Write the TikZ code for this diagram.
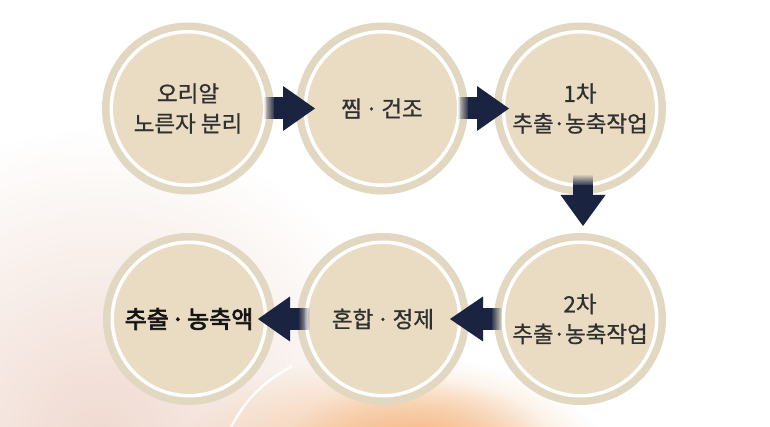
\documentclass[tikz,border=0pt]{standalone}
\usepackage{fontspec}
\setmainfont{Noto Sans CJK KR}[FakeBold=0.8]
\newfontfamily\regfont{Noto Sans CJK KR}[FakeBold=0.8]
\newfontfamily\boldfont{Noto Sans CJK KR}[FakeBold=3]
\usetikzlibrary{calc,fadings}
\definecolor{ringbeige}{HTML}{E2D7C1}
\definecolor{innerbeige}{HTML}{E9DCC3}
\definecolor{navy}{HTML}{1A2440}
\definecolor{txt}{HTML}{303030}
\definecolor{peachglow}{HTML}{F0DAD0}
\definecolor{orangeglow}{HTML}{F6BD8A}
\tikzfading[name=fadein, left color=transparent!100, right color=transparent!0]
\tikzfading[name=fuzzycirc, inner color=transparent!0, outer color=transparent!100]
\newcommand{\mdot}[1]{\kern#1em·\kern#1em}
\begin{document}
\begin{tikzpicture}[x=1pt,y=-1pt,
  stepcirc/.style={circle, minimum size=153.5pt, inner sep=0pt, fill=innerbeige,
    draw=white, line width=3.5pt, preaction={draw=ringbeige, line width=18.5pt},
    align=center, text=txt, font=\regfont\fontsize{22.5}{30}\selectfont},
  headfill/.style={fill=navy},
  shaftfill/.style={fill=navy, path fading=fadein}]
\useasboundingbox (0,0) rectangle (770,427);
\fill[white] (0,0) rectangle (770,427);
\begin{scope}
  \clip (0,0) rectangle (770,427);
  \fill[peachglow, path fading=fuzzycirc] (100,440) circle (310);
  \fill[orangeglow, path fading=fuzzycirc] (390,465) ellipse (220 and 110);
  \fill[orangeglow, path fading=fuzzycirc] (420,440) ellipse (130 and 60);
  \draw[white, line width=2.5pt, opacity=.9] (231,427) .. controls (245,402) and (258,385) .. (292,366);
\end{scope}

\node[stepcirc] (n1) at (188,108.5) {오리알\\노른자 분리};
\node[stepcirc] (n2) at (382,108.5) {찜\mdot{0.15}건조};
\node[stepcirc] (n3) at (580,108.5) {1차\\추출\mdot{-0.03}농축작업};
\node[stepcirc] (n6) at (580,319) {2차\\추출\mdot{-0.03}농축작업};
\node[stepcirc] (n5) at (383,319) {혼합\mdot{0.15}정제};
\node[stepcirc, font=\boldfont\fontsize{24}{32}\selectfont, text=black!92] (n4) at (189,319) {추출\mdot{0.1}농축액};

% n1 -> n2
\coordinate (t1) at ($(n2.center)+(-67,0)$);
\fill[shaftfill] ($(t1)+(-52,-11)$) rectangle ($(t1)+(-40,11)$);
\fill[headfill] ($(t1)+(-41,-11)$) rectangle ($(t1)+(-30,11)$);
\fill[headfill] (t1) -- ++(-32,-22.5) -- ++(0,45) -- cycle;
% n2 -> n3
\coordinate (t2) at ($(n3.center)+(-71,0)$);
\fill[shaftfill] ($(t2)+(-52,-11)$) rectangle ($(t2)+(-40,11)$);
\fill[headfill] ($(t2)+(-41,-11)$) rectangle ($(t2)+(-30,11)$);
\fill[headfill] (t2) -- ++(-32,-22.5) -- ++(0,45) -- cycle;
% n3 -> n6
\coordinate (t3) at ($(n6.center)+(3,-93)$);
\fill[shaftfill, fading angle=-90] ($(t3)+(-10,-52)$) rectangle ($(t3)+(10,-40)$);
\fill[headfill] ($(t3)+(-10,-41)$) rectangle ($(t3)+(10,-29)$);
\fill[headfill] (t3) -- ++(-22.5,-31) -- ++(45,0) -- cycle;
% n6 -> n5
\coordinate (t4) at ($(n5.center)+(67,0)$);
\fill[shaftfill, fading angle=180] ($(t4)+(52,-11)$) rectangle ($(t4)+(41,11)$);
\fill[headfill] ($(t4)+(42,-11)$) rectangle ($(t4)+(30,11)$);
\fill[headfill] (t4) -- ++(33,-22.5) -- ++(0,45) -- cycle;
% n5 -> n4
\coordinate (t5) at ($(n4.center)+(69,0)$);
\fill[shaftfill, fading angle=180] ($(t5)+(52,-11)$) rectangle ($(t5)+(40,11)$);
\fill[headfill] ($(t5)+(41,-11)$) rectangle ($(t5)+(30,11)$);
\fill[headfill] (t5) -- ++(32,-22.5) -- ++(0,45) -- cycle;
\end{tikzpicture}
\end{document}
